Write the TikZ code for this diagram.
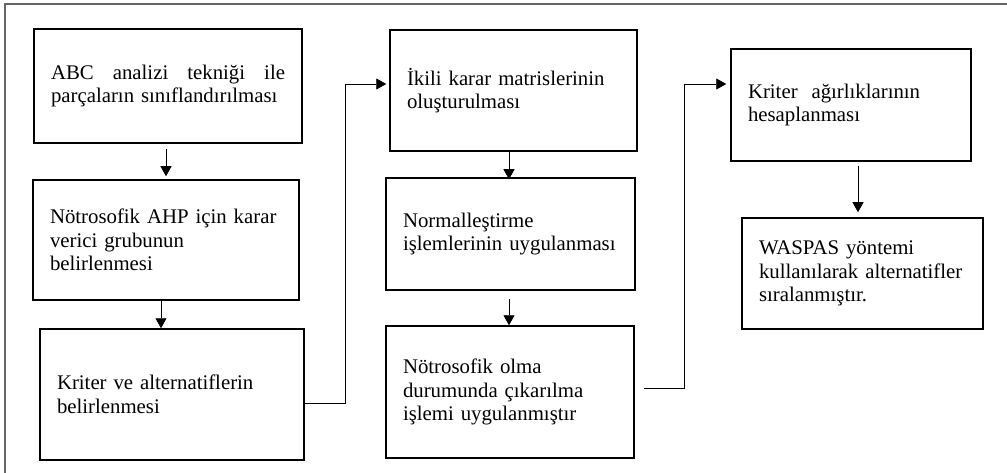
\documentclass[tikz,border=0pt]{standalone}
\usepackage{fontspec}
\setmainfont{Liberation Serif}
\usetikzlibrary{arrows.meta, positioning}

\begin{document}
\begin{tikzpicture}[x=1pt, y=-1pt]
\tikzset{
  stepbox/.style={draw, line width=1.5pt, align=left, inner xsep=17pt, inner ysep=0pt,
    font=\fontsize{20.8}{23.5}\selectfont},
  flow/.style={line width=0.8pt, -{Triangle[width=11pt,length=10pt]}}
}

\useasboundingbox (0,0) rectangle (1007,473);
\draw[line width=1.5pt, black!60] (5,473) -- (5,4) -- (1007,4);

% first column
\node[stepbox, text width=234pt, minimum height=114pt] (b1) at (168,86)
  {ABC\hfill analizi\hfill tekniği\hfill ile\\parçaların~sınıflandırılması};
\node[stepbox, text width=232pt, minimum height=120pt] (b2) at (166,240)
  {Nötrosofik~AHP~için~karar\\verici grubunun\\belirlenmesi};
\node[stepbox, text width=230pt, minimum height=131pt] (b3) at (172,394.5)
  {Kriter~ve~alternatiflerin\\belirlenmesi};

% second column
\node[stepbox, text width=213pt, minimum height=121pt] (b4) at (513.5,90.5)
  {İkili~karar~matrislerinin\\oluşturulması};
\node[stepbox, text width=215pt, minimum height=112pt] (b5) at (510.5,234)
  {Normalleştirme\\işlemlerinin~uygulanması\\[4pt]};
\node[stepbox, text width=214pt, minimum height=132pt] (b6) at (510,392)
  {Nötrosofik olma\\durumunda~çıkarılma\\işlemi~uygulanmıştır};

% third column
\node[stepbox, text width=206pt, minimum height=112pt] (b7) at (851,105)
  {Kriter~ ağırlıklarının\\hesaplanması};
\node[stepbox, text width=207pt, minimum height=111pt] (b8) at (862.5,273.5)
  {WASPAS~yöntemi\\kullanılarak~alternatifler\\sıralanmıştır.};

% connectors
\draw[flow, shorten <=5pt, shorten >=3pt] (b1.south -| 166,0) -- (b2.north -| 166,0);
\draw[flow] (b2.south -| 161,0) -- (b3.north -| 161,0);
\draw[flow, shorten >=-2pt] (b4.south -| 509,0) -- (b5.north -| 509,0);
\draw[flow, shorten <=8pt] (b5.south -| 509,0) -- (b6.north -| 509,0);
\draw[flow, shorten <=4pt, shorten >=5pt] (b7.south -| 858,0) -- (b8.north -| 858,0);

\draw[flow, shorten >=3pt] (b3.east |- 0,403) -- (345,403) |- (b4.west |- 0,84);
\draw[flow, shorten <=9pt, shorten >=4pt] (b6.east |- 0,388) -- (684,388) |- (b7.west |- 0,84);
\end{tikzpicture}
\end{document}
